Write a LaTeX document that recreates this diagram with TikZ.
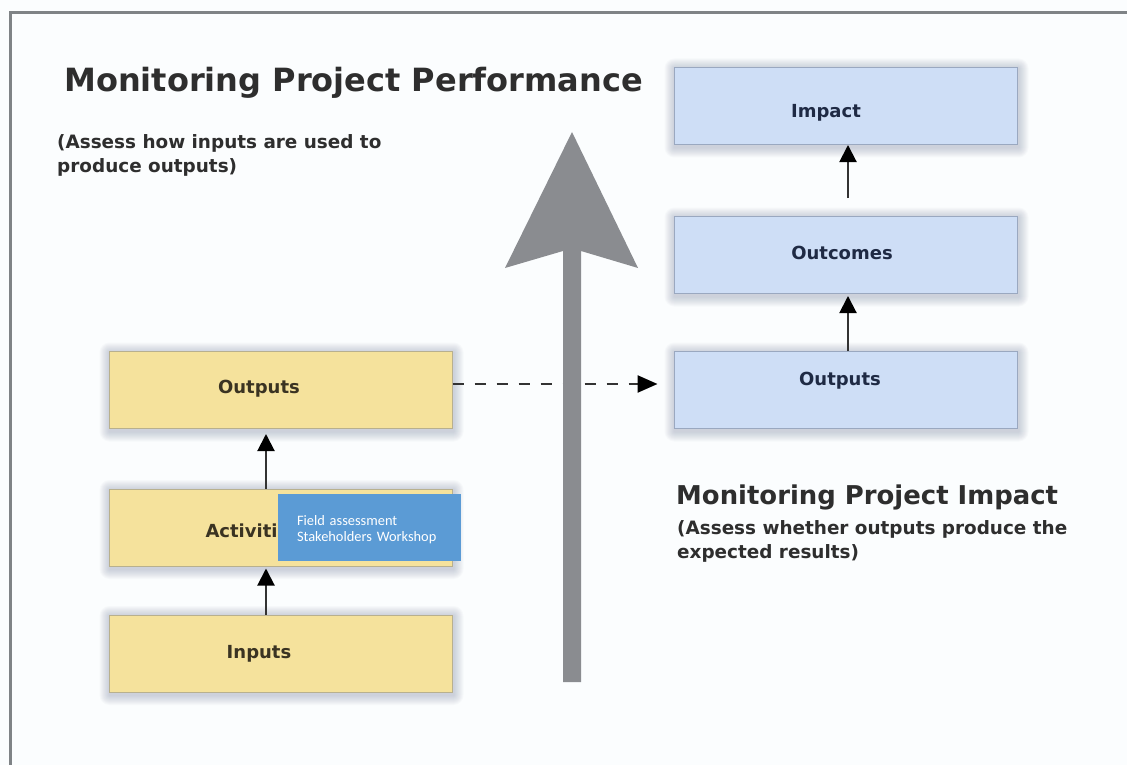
\documentclass[tikz,border=0pt]{standalone}
\usepackage{fontspec}
\setmainfont{DejaVu Sans}
\newfontfamily\notefont{Carlito}
\usetikzlibrary{arrows.meta,backgrounds}

\definecolor{pagebg}{HTML}{FBFDFE}
\definecolor{framegray}{HTML}{7F8386}
\definecolor{yellowfill}{HTML}{F5E29C}
\definecolor{yellowedge}{HTML}{B8B08E}
\definecolor{bluefill}{HTML}{CEDEF6}
\definecolor{blueedge}{HTML}{9AA8C0}
\definecolor{glowcol}{HTML}{5E6C8E}
\definecolor{arrowgray}{HTML}{8A8C90}
\definecolor{linkgray}{HTML}{333333}
\definecolor{headtext}{HTML}{2E2E2E}
\definecolor{yellowtext}{HTML}{3A3322}
\definecolor{bluetext}{HTML}{1F2A44}
\definecolor{notefill}{HTML}{5B9BD5}

\tikzset{
  boxbase/.style={minimum width=343pt, minimum height=77pt, inner sep=0pt,
    line width=1pt},
  ybox/.style={boxbase, draw=yellowedge, fill=yellowfill},
  bbox/.style={boxbase, draw=blueedge, fill=bluefill},
  boxlabel/.style={anchor=base, inner sep=0pt,
    font=\fontsize{18}{20}\selectfont\bfseries},
  titletext/.style={anchor=base west, inner sep=0pt, text=headtext},
  subtext/.style={anchor=north west, inner sep=0pt, align=left, text=headtext,
    font=\fontsize{18.4}{24}\selectfont\bfseries},
  uparrow/.style={draw=linkgray, line width=2pt,
    -{Triangle[length=17pt,width=17pt,fill=black,color=black]}},
  dasharrow/.style={draw=linkgray, line width=2.5pt,
    dash pattern=on 11pt off 11pt,
    -{Triangle[length=20pt,width=17pt,fill=black,color=black]}},
  notebox/.style={fill=notefill, minimum width=183pt, minimum height=67pt,
    inner sep=0pt},
  notetext/.style={inner sep=0pt, text width=145pt, align=left, text=white,
    font=\notefont\fontsize{14.4}{16}\selectfont}
}

\begin{document}
\begin{tikzpicture}[x=1pt,y=-1pt]
  \useasboundingbox (0,0) rectangle (1127,765);

  % left column: performance chain
  \node[ybox] (outL) at (280.5,390) {};
  \node[ybox] (actL) at (280.5,527.5) {};
  \node[ybox] (inL)  at (280.5,653.5) {};

  % right column: impact chain
  \node[bbox] (impR)  at (845.5,106) {};
  \node[bbox] (outcR) at (845.5,255) {};
  \node[bbox] (outR)  at (845.5,390) {};

  % page, frame and soft glow behind every box
  \begin{scope}[on background layer]
    \fill[pagebg] (0,0) rectangle (1127,765);
    \draw[framegray, line width=3pt] (10,765) -- (10,13) -- (1127,13);
    \foreach \b in {outL,actL,inL,impR,outcR,outR}{
      \foreach \i in {1,...,10}{
        \fill[glowcol, fill opacity=0.032, rounded corners=\i pt]
          ([shift={(-\i pt+1pt,-\i pt-2.5pt)}]\b.south west)
          rectangle ([shift={(\i pt+1pt,\i pt-1.5pt)}]\b.north east);
      }
    }
  \end{scope}

  % dashed link between the two Outputs boxes
  \draw[dasharrow, shorten >=16pt] ([yshift=6pt]outL.east) -- ([yshift=6pt]outR.west);

  % large gray arrow
  \coordinate (shaftBL) at (563,682);
  \coordinate (shaftBR) at (581,682);
  \coordinate (tip) at (572,132);
  \fill[arrowgray] (shaftBL) -- (563,251) -- (505,268) -- (tip)
    -- (638,268) -- (581,251) -- (shaftBR) -- cycle;

  % small connectors
  \coordinate (xl) at (266,0);
  \coordinate (xr) at (848,0);
  \draw[uparrow, shorten >=5pt] (actL.north -| xl) -- (outL.south -| xl);
  \draw[uparrow, shorten >=2pt] (inL.north -| xl) -- (actL.south -| xl);
  \draw[uparrow, shorten <=18pt] (outcR.north -| xr) -- (impR.south -| xr);
  \draw[uparrow, shorten >=2pt] (outR.north -| xr) -- (outcR.south -| xr);

  % box labels
  \node[boxlabel, text=yellowtext] (outLtxt) at (259,393) {Outputs};
  \node[boxlabel, text=yellowtext] (actLtxt) at (253,537) {Activities};
  \node[boxlabel, text=yellowtext] (inLtxt)  at (259,658) {Inputs};
  \node[boxlabel, text=bluetext] (impRtxt)  at (826,118) {Impact};
  \node[boxlabel, text=bluetext] (outcRtxt) at (842,259) {Outcomes};
  \node[boxlabel, text=bluetext] (outRtxt)  at (840,385) {Outputs};

  % note box over the Activities box
  \node[notebox, label={[name=notetxt, notetext, yshift=-2pt]center:{Field assessment\\Stakeholders Workshop}}]
    (note) at (369.5,527.5) {};

  % headings
  \node[titletext, font=\fontsize{32}{36}\selectfont\bfseries] (perfTitle) at (64,92)
    {Monitoring Project Performance};
  \node[subtext] (perfSub) at (57,134)
    {(Assess how inputs are used to\\produce outputs)};
  \node[titletext, font=\fontsize{25.9}{30}\selectfont\bfseries] (impTitle) at (676,504)
    {Monitoring Project Impact};
  \node[subtext] (impSub) at (677,520)
    {(Assess whether outputs produce the\\expected results)};
\end{tikzpicture}
\end{document}
